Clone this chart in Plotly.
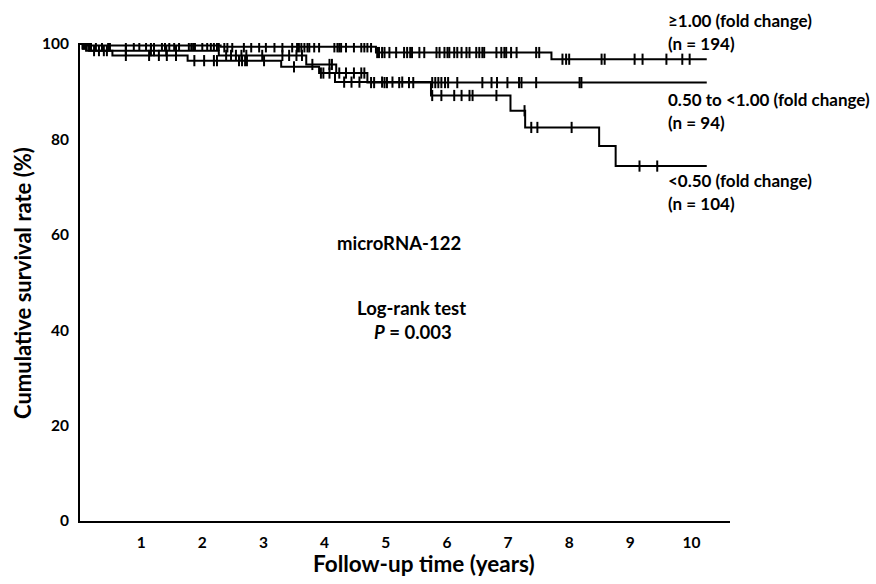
import plotly.graph_objects as go

# ---------------- data ----------------
# group >= 1.00 fold change (n = 194)
hi_times = [0, 0.10, 2.30, 4.84, 7.71]
hi_surv = [100, 99.7, 99.4, 98.2, 96.8]
hi_censor = [0.05, 0.08, 0.11, 0.15, 0.18, 0.26, 0.36, 0.46, 0.49, 0.75, 0.88, 0.97,
             1.08, 1.16, 1.21, 1.34, 1.39, 1.46, 1.54, 1.62, 1.78, 1.82, 1.85, 1.88,
             2.00, 2.08, 2.14, 2.19, 2.24, 2.27, 2.36, 2.41, 2.49, 2.68, 2.80, 2.93,
             3.04, 3.18, 3.31, 3.47, 3.55, 3.58, 3.62, 3.67, 3.72, 3.75, 3.83, 3.91,
             4.16, 4.21, 4.24, 4.27, 4.35, 4.48, 4.60, 4.65, 4.70, 4.76,
             4.86, 4.89, 4.94, 4.98, 5.06, 5.17, 5.30, 5.35, 5.40, 5.43, 5.55, 5.63,
             5.83, 5.88, 5.96, 6.01, 6.04, 6.12, 6.17, 6.24, 6.32, 6.37, 6.48, 6.53,
             6.58, 6.61, 6.81, 6.89, 6.94, 6.97, 7.05, 7.14, 7.46, 7.51,
             7.89, 7.95, 8.00, 8.53, 8.58, 9.07, 9.20, 9.59, 9.85, 9.97]

# group 0.50 to <1.00 fold change (n = 94)
mid_times = [0, 0.10, 2.27, 3.70, 4.19, 4.70]
mid_surv = [100, 98.6, 97.6, 95.7, 93.9, 91.9]
mid_censor = [0.04, 0.07, 0.23, 0.31, 0.39, 0.44, 0.75, 1.16, 1.21, 1.41, 1.57,
              2.39, 2.47, 2.55, 2.64, 2.72, 2.98, 3.31, 3.42, 3.54, 3.63, 3.80,
              4.08, 4.12, 4.24, 4.35, 4.48, 4.60, 4.65, 4.76, 4.81, 4.98, 5.02,
              5.22, 5.38, 5.45, 5.76, 5.81, 5.86, 5.91, 5.97, 6.02, 6.17, 6.58,
              6.73, 6.82, 6.99, 7.18, 7.22, 7.46, 8.17, 8.20]

# group <0.50 fold change (n = 104)
low_times = [0, 0.15, 0.53, 1.76, 3.29, 3.91, 4.17, 5.74, 7.04, 7.28, 8.49, 8.76]
low_surv = [100, 98.6, 97.6, 96.5, 95.2, 93.9, 92.0, 89.2, 86.0, 82.5, 78.6, 74.4]
low_censor = [0.05, 0.09, 0.75, 1.13, 1.29, 1.42, 1.57, 1.87, 2.03, 2.19, 2.24,
              2.60, 2.65, 2.70, 2.73, 3.01, 3.50, 3.94, 3.98, 4.08, 4.32, 4.44,
              4.57, 4.94, 5.11, 5.27, 5.76, 5.91, 6.12, 6.24, 6.37, 6.42, 6.81,
              7.27, 7.38, 7.48, 8.04, 9.15, 9.44]

end_time = 10.25

group_lines = [
    ("≥1.00 (fold change)", "(n = 194)"),
    ("0.50 to <1.00 (fold change)", "(n = 94)"),
    ("<0.50 (fold change)", "(n = 104)"),
]

x_ticks = [1, 2, 3, 4, 5, 6, 7, 8, 9, 10]
y_ticks = [0, 20, 40, 60, 80, 100]

FONT = "Lato"


def step_value(times, surv, t):
    v = surv[0]
    for ti, si in zip(times, surv):
        if ti <= t:
            v = si
    return v


fig = go.Figure()
groups = [
    (hi_times, hi_surv, hi_censor),
    (mid_times, mid_surv, mid_censor),
    (low_times, low_surv, low_censor),
]
for times, surv, cens in groups:
    xs = list(times) + [end_time]
    ys = list(surv) + [surv[-1]]
    fig.add_trace(go.Scatter(x=xs, y=ys, mode="lines", line_shape="hv",
                             line=dict(color="black", width=2),
                             showlegend=False, hoverinfo="skip"))
    fig.add_trace(go.Scatter(x=cens, y=[step_value(times, surv, c) for c in cens],
                             mode="markers",
                             marker=dict(symbol="line-ns", size=8,
                                         line=dict(color="black", width=2)),
                             showlegend=False, hoverinfo="skip"))

# plot area in pixels: x 80..730, y 43..521
L, R, T, B = 80, 730, 43, 521


def px(x):
    return (x - L) / (R - L)


def py(y):
    return (B - y) / (B - T)


annotations = []
label_rows = [(20, 43), (100, 122), (180, 203)]
for (name, n), (y1, y2) in zip(group_lines, label_rows):
    for txt, yy in ((name, y1), (n, y2)):
        annotations.append(dict(text="<b>" + txt + "</b>", x=px(666), y=py(yy),
                                xref="paper", yref="paper", xanchor="left",
                                yanchor="middle", showarrow=False,
                                font=dict(family=FONT, size=17, color="black")))

center_texts = [
    ("<b>microRNA-122</b>", 399, 243),
    ("<b>Log-rank test</b>", 411, 308),
    ("<b><i>P</i> = 0.003</b>", 413, 332),
]
for txt, xx, yy in center_texts:
    annotations.append(dict(text=txt, x=px(xx), y=py(yy), xref="paper", yref="paper",
                            xanchor="center", yanchor="middle", showarrow=False,
                            font=dict(family=FONT, size=18.5, color="black")))

annotations.append(dict(text="<b>Follow-up time (years)</b>", x=px(424), y=py(563),
                        xref="paper", yref="paper", xanchor="center", yanchor="middle",
                        showarrow=False, font=dict(family=FONT, size=22.5, color="black")))
annotations.append(dict(text="<b>Cumulative survival rate (%)</b>", x=px(22), y=py(283),
                        xref="paper", yref="paper", xanchor="center", yanchor="middle",
                        textangle=-90, showarrow=False,
                        font=dict(family=FONT, size=22, color="black")))

fig.update_layout(
    width=876, height=584,
    margin=dict(l=L, r=876 - R, t=T, b=584 - B),
    paper_bgcolor="white", plot_bgcolor="white",
    annotations=annotations,
    xaxis=dict(range=[0, 10.63], tickvals=x_ticks, ticktext=[str(v) for v in x_ticks],
               showgrid=False, zeroline=False, showline=True, linecolor="black",
               linewidth=2, ticks="outside", ticklen=6, tickcolor="rgba(0,0,0,0)",
               tickfont=dict(family=FONT, size=15.5, color="black", weight="bold")),
    yaxis=dict(range=[0, 100.2], tickvals=y_ticks, ticktext=[str(v) for v in y_ticks],
               showgrid=False, zeroline=False, showline=True, linecolor="black",
               linewidth=2, ticks="outside", ticklen=6, tickcolor="rgba(0,0,0,0)",
               tickfont=dict(family=FONT, size=15.5, color="black", weight="bold")),
)

fig.write_html("out.html")
